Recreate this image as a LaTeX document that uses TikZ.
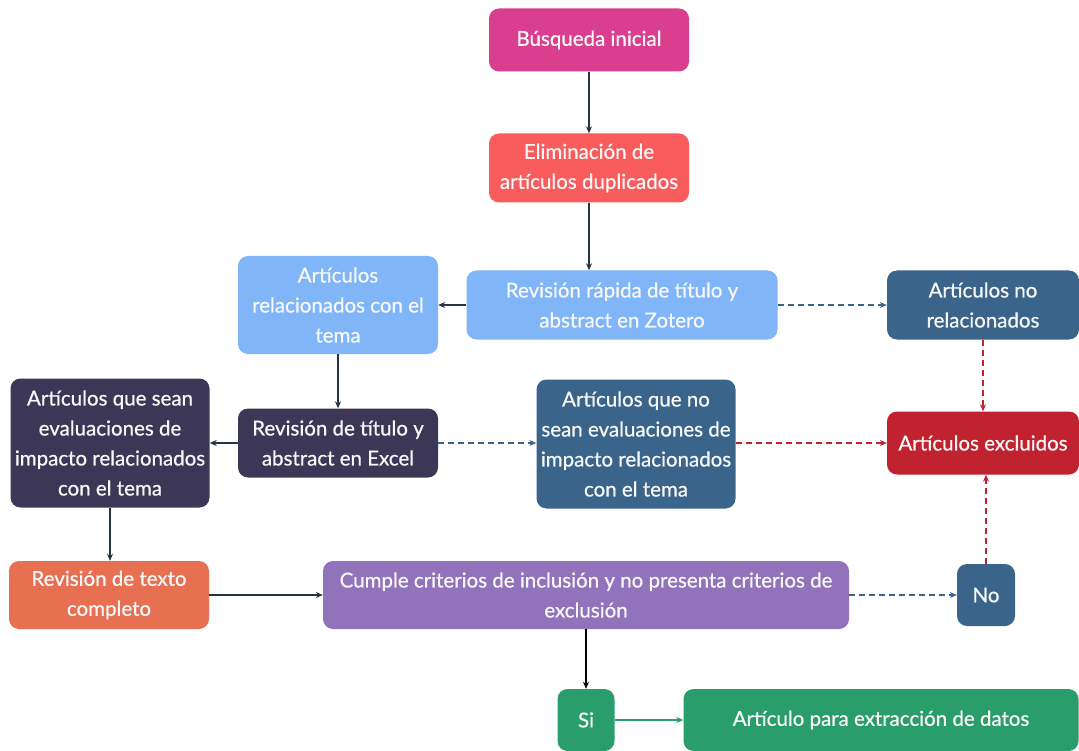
\documentclass[tikz,border=0pt]{standalone}
\usepackage{fontspec}
\setmainfont{Lato}[BoldFont=Lato, BoldFeatures={FakeBold=0.7}]
\usetikzlibrary{arrows.meta}
\definecolor{cmag}{HTML}{D93F8E}
\definecolor{csalmon}{HTML}{F85C5C}
\definecolor{clight}{HTML}{80B6F7}
\definecolor{csteel}{HTML}{3A6489}
\definecolor{cdark}{HTML}{3D3757}
\definecolor{cred}{HTML}{C0222F}
\definecolor{corange}{HTML}{E87052}
\definecolor{cpurple}{HTML}{9073BB}
\definecolor{cgreen}{HTML}{2A9D6C}
\definecolor{cline}{HTML}{263545}
\definecolor{ctext}{HTML}{F7F7F7}
\tikzset{
  box/.style={draw=none, rounded corners=10pt, text=ctext, align=center, inner sep=0pt,
    font=\fontsize{20.5}{30}\selectfont\bfseries},
  arr/.style={-{Stealth[length=7pt,width=6pt]}, line width=1.6pt, draw=cline},
  darr/.style={arr, draw=csteel, dash pattern=on 6pt off 4pt},
  rarr/.style={arr, draw=cred, dash pattern=on 6pt off 4pt},
  garr/.style={arr, draw=cgreen},
  barr/.style={arr, draw=black}
}
\begin{document}
\begin{tikzpicture}[x=1pt,y=-1pt]
\useasboundingbox (0,0) rectangle (1079,751);
\node[box, fill=cmag, minimum width=200pt, minimum height=63pt] (n1) at (589,40) {Búsqueda inicial};
\node[box, fill=csalmon, minimum width=200pt, minimum height=69pt] (n2) at (589,168) {Eliminación de\\artículos duplicados};
\node[box, fill=clight, minimum width=311pt, minimum height=69pt] (n3) at (622,305) {Revisión rápida de título y\\abstract en Zotero};
\node[box, fill=clight, minimum width=200pt, minimum height=98pt] (n4) at (338,305) {Artículos\\relacionados con el\\tema};
\node[box, fill=csteel, minimum width=192pt, minimum height=69pt] (n5) at (983,305) {Artículos no\\relacionados};
\node[box, fill=cdark, minimum width=200pt, minimum height=69pt] (n6) at (338,443) {Revisión de título y\\abstract en Excel};
\node[box, fill=cdark, minimum width=199pt, minimum height=129pt] (n7) at (110,443) {Artículos que sean\\evaluaciones de\\impacto relacionados\\con el tema};
\node[box, fill=csteel, minimum width=199pt, minimum height=129pt] (n8) at (636,444) {Artículos que no\\sean evaluaciones de\\impacto relacionados\\con el tema};
\node[box, fill=cred, minimum width=192pt, minimum height=63pt] (n9) at (983,443) {Artículos excluidos};
\node[box, fill=corange, minimum width=200pt, minimum height=68pt] (n10) at (109,595) {Revisión de texto\\completo};
\node[box, fill=cpurple, minimum width=526pt, minimum height=68pt] (n11) at (586,595) {Cumple criterios de inclusión y no presenta criterios de\\exclusión};
\node[box, fill=csteel, minimum width=58pt, minimum height=62pt] (n12) at (986,595) {No};
\node[box, fill=cgreen, minimum width=57pt, minimum height=62pt] (n13) at (586,720) {Si};
\node[box, fill=cgreen, minimum width=395pt, minimum height=62pt] (n14) at (881,720) {Artículo para extracción de datos};

\draw[arr] (n1) -- (n2);
\draw[arr] (n2.south) -- (n2.south |- n3.north);
\draw[arr] (n3) -- (n4);
\draw[darr] (n3) -- (n5);
\draw[arr] (n4) -- (n6);
\draw[arr] (n6) -- (n7);
\draw[darr] (n6.east) -- (n6.east -| n8.west);
\draw[rarr] (n5) -- (n9);
\draw[rarr] (n8.east |- n9.west) -- (n9.west);
\draw[rarr] (n12.north) -- (n12.north |- n9.south);
\draw[arr] (n7.south) -- (n7.south |- n10.north);
\draw[arr] (n10) -- (n11);
\draw[darr] (n11) -- (n12);
\draw[barr] (n11) -- (n13);
\draw[garr] (n13) -- (n14);
\end{tikzpicture}
\end{document}
